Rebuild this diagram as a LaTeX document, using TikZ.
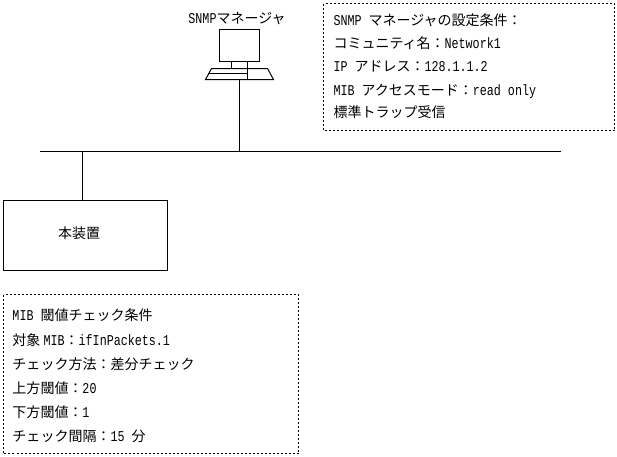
\documentclass[tikz,border=0pt]{standalone}
\usepackage{fontspec}
\setmainfont[FakeStretch=0.78]{Liberation Mono}
\newfontfamily\cjk{Noto Sans CJK JP}
\newcommand{\jt}[1]{{\cjk\fontsize{14}{14}\selectfont #1}}
\tikzset{
  textline/.style={anchor=base west, inner sep=0pt, font=\fontsize{15}{14}\selectfont},
  dashbox/.style={draw, dash pattern=on 2pt off 2pt},
  unit/.style={draw, minimum width=164pt, minimum height=70pt, inner sep=0pt}
}

\begin{document}
\begin{tikzpicture}[x=1pt,y=-1pt,line width=1pt]%
\useasboundingbox (0,0) rectangle (617,456);

\def\xa{333}
\def\xb{12}

%bus
\coordinate (busl) at (40,151.5);
\coordinate (busr) at (561,151.5);
\coordinate (busd) at (82.5,151.5);
\draw (busl) -- (busr);

%manager terminal
\draw (219.5,29.5) rectangle (259.5,61.5); %screen
\draw (231.5,61.5) -- (231.5,68.5);
\draw (247.5,61.5) -- (247.5,79.5);
\draw (211.5,68.5) -- (267.5,68.5) -- (273.5,79.5) -- (205.5,79.5) -- cycle; %keyboard
\draw (208.5,73.5) -- (247.5,73.5);
\coordinate (pc) at (239.5,79.5);
\draw (pc) -- (pc |- busl);
\node[inner sep=0pt, font=\fontsize{15}{14}\selectfont] (mgr) at (237,19) {SNMP\jt{マネージャ}};

%device
\node[unit] (dev) at (85.5,235.5) {};
\node[inner sep=0pt] (devname) at (79,233) {\jt{本装置}};
\draw (busd) -- (busd |- dev.north);

%manager settings
\draw[dashbox] (323.5,3.5) rectangle (614.5,130.5);
\node[textline] (seta) at (\xa,25) {SNMP \jt{マネージャの設定条件：}};
\node[textline] (setb) at (\xa,48.5) {\jt{コミュニティ名：}Network1};
\node[textline] (setc) at (\xa,71) {IP \jt{アドレス：}128.1.1.2};
\node[textline] (setd) at (\xa,95) {MIB \jt{アクセスモード：}read only};
\node[textline] (sete) at (\xa,117) {\jt{標準トラップ受信}};

%threshold settings
\draw[dashbox] (3.5,294.5) rectangle (298.5,453.5);
\node[textline] (miba) at (\xb,320) {MIB \jt{閾値チェック条件}};
\node[textline] (mibb) at (\xb,345) {\jt{対象 }MIB\jt{：}ifInPackets.1};
\node[textline] (mibc) at (\xb,369) {\jt{チェック方法：差分チェック}};
\node[textline] (mibd) at (\xb,393) {\jt{上方閾値：}20};
\node[textline] (mibe) at (\xb,417) {\jt{下方閾値：}1};
\node[textline] (mibf) at (\xb,441) {\jt{チェック間隔：}15 \jt{分}};

\end{tikzpicture}
\end{document}
